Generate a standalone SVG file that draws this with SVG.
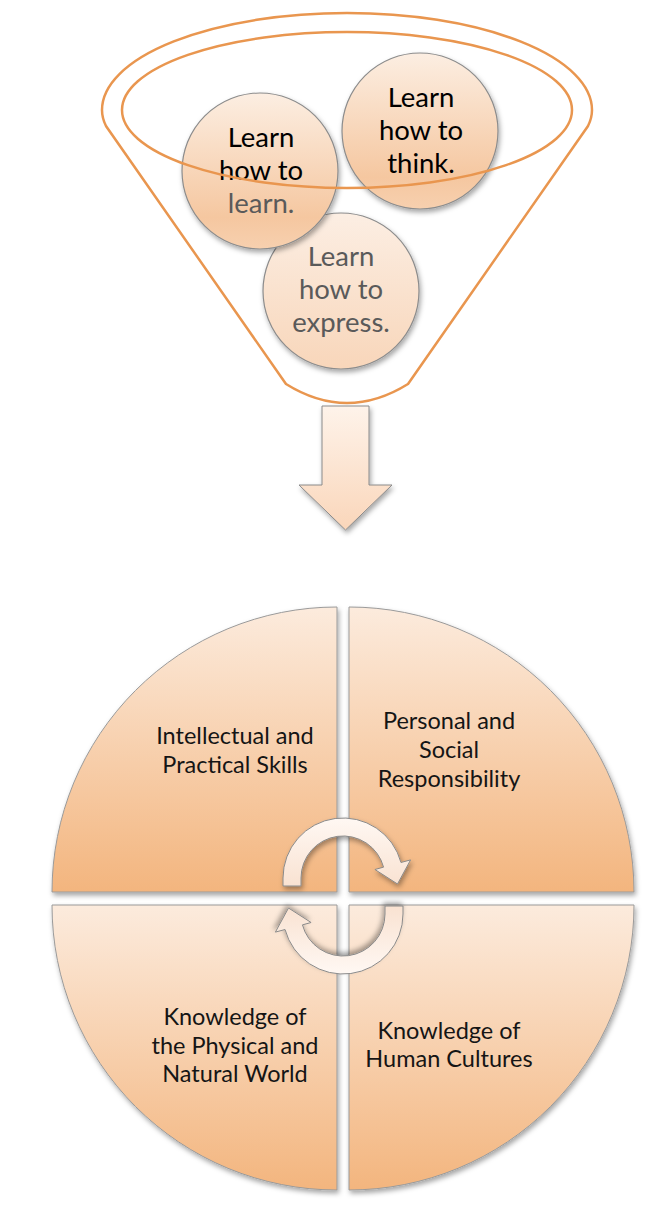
<svg xmlns="http://www.w3.org/2000/svg" width="653" height="1212" viewBox="0 0 653 1212">
<style>
.funnel{fill:none;stroke:#E9964F;stroke-width:2.5}
.ball{stroke:#8C8C8C;stroke-width:1.2}
.bt{font-family:Lato,"Open Sans",sans-serif;font-size:27.5px;text-anchor:middle}
.dk{fill:#000}
.gy{fill:#5A5A5A}
.quad{stroke:#9A9A9A;stroke-width:1;fill:url(#gq)}
.qt{font-family:Lato,"Open Sans",sans-serif;font-size:23.5px;fill:#151515;text-anchor:middle}
.carrow{fill:url(#ga);stroke:#8A8A8A;stroke-width:1}
</style>
<defs>
<linearGradient id="gb" x1="0" y1="0" x2="0" y2="1">
<stop offset="0" stop-color="#FCEEE2"/>
<stop offset="0.8" stop-color="#F5C7A0"/>
<stop offset="1" stop-color="#F7D0AF"/>
</linearGradient>
<linearGradient id="gb2" x1="0" y1="0" x2="0" y2="1">
<stop offset="0" stop-color="#FCEEE3"/>
<stop offset="1" stop-color="#F8D6BA"/>
</linearGradient>
<linearGradient id="gd" x1="0" y1="0" x2="0" y2="1">
<stop offset="0" stop-color="#FEF3EA"/>
<stop offset="1" stop-color="#FAD6BA"/>
</linearGradient>
<linearGradient id="gq" x1="0" y1="0" x2="0" y2="1">
<stop offset="0" stop-color="#FCEBDD"/>
<stop offset="1" stop-color="#F3B57E"/>
</linearGradient>
<linearGradient id="ga" x1="0" y1="0" x2="0" y2="1">
<stop offset="0" stop-color="#FFF8F3"/>
<stop offset="1" stop-color="#F9E2D1"/>
</linearGradient>
<filter id="sh" x="-20%" y="-20%" width="140%" height="140%">
<feDropShadow dx="1.5" dy="3" stdDeviation="2.5" flood-color="#000" flood-opacity="0.35"/>
</filter>
</defs>

<g id="funnel">
<path class="funnel" d="M102,110 A245,97 0 0 1 592,110 Q592,118 588,126 L408,384 Q347,422 286,384 L106,126 Q102,118 102,110 Z"/>
</g>

<g id="ball-express">
<circle class="ball" cx="341" cy="291" r="78" fill="url(#gb2)" filter="url(#sh)"/>
<text class="bt gy" x="341" y="266">Learn</text>
<text class="bt gy" x="341" y="299">how to</text>
<text class="bt gy" x="341" y="332">express.</text>
</g>

<g id="ball-learn">
<circle class="ball" cx="260" cy="171" r="78" fill="url(#gb)" filter="url(#sh)"/>
<text class="bt dk" x="261" y="147">Learn</text>
<text class="bt dk" x="261" y="180">how to</text>
<text class="bt gy" x="261" y="213">learn.</text>
</g>

<g id="ball-think">
<circle class="ball" cx="420" cy="131" r="78" fill="url(#gb)" filter="url(#sh)"/>
<text class="bt dk" x="421" y="107">Learn</text>
<text class="bt dk" x="421" y="140">how to</text>
<text class="bt dk" x="421" y="173">think.</text>
</g>

<g id="funnel-rim">
<ellipse class="funnel" cx="347" cy="110" rx="225" ry="78"/>
</g>

<g id="connectors">
<path id="down-arrow" d="M322,406 L369,406 L369,485 L392,485 L345.5,530 L299,485 L322,485 Z" fill="url(#gd)" stroke="#8A8A8A" stroke-width="1" filter="url(#sh)"/>
</g>

<g id="q-intellectual">
<path class="quad" d="M337,892 L52,892 A285,285 0 0 1 337,607 Z" filter="url(#sh)"/>
<text class="qt" x="235" y="744">Intellectual and</text>
<text class="qt" x="235" y="773">Practical Skills</text>
</g>

<g id="q-personal">
<path class="quad" d="M349,892 L349,607 A285,285 0 0 1 634,892 Z" filter="url(#sh)"/>
<text class="qt" x="449" y="729">Personal and</text>
<text class="qt" x="449" y="758">Social</text>
<text class="qt" x="449" y="787">Responsibility</text>
</g>

<g id="q-physical">
<path class="quad" d="M337,905 L337,1190 A285,285 0 0 1 52,905 Z" filter="url(#sh)"/>
<text class="qt" x="235" y="1025">Knowledge of</text>
<text class="qt" x="235" y="1054">the Physical and</text>
<text class="qt" x="235" y="1082">Natural World</text>
</g>

<g id="q-human">
<path class="quad" d="M349,905 L634,905 A285,285 0 0 1 349,1190 Z" filter="url(#sh)"/>
<text class="qt" x="449" y="1039">Knowledge of</text>
<text class="qt" x="449" y="1067">Human Cultures</text>
</g>

<g id="cycle-arrows">
<path class="carrow" filter="url(#sh)" d="M283,886 L283,878 A60,60 0 0 1 400.96,862.47 L410.6,859.9 L397.5,884 L374.9,869.5 L383.57,867.13 A42,42 0 0 0 301,878 L301,886 Z"/>
<path class="carrow" filter="url(#sh)" transform="rotate(180 343 896)" d="M283,886 L283,878 A60,60 0 0 1 400.96,862.47 L410.6,859.9 L397.5,884 L374.9,869.5 L383.57,867.13 A42,42 0 0 0 301,878 L301,886 Z"/>
</g>
</svg>
